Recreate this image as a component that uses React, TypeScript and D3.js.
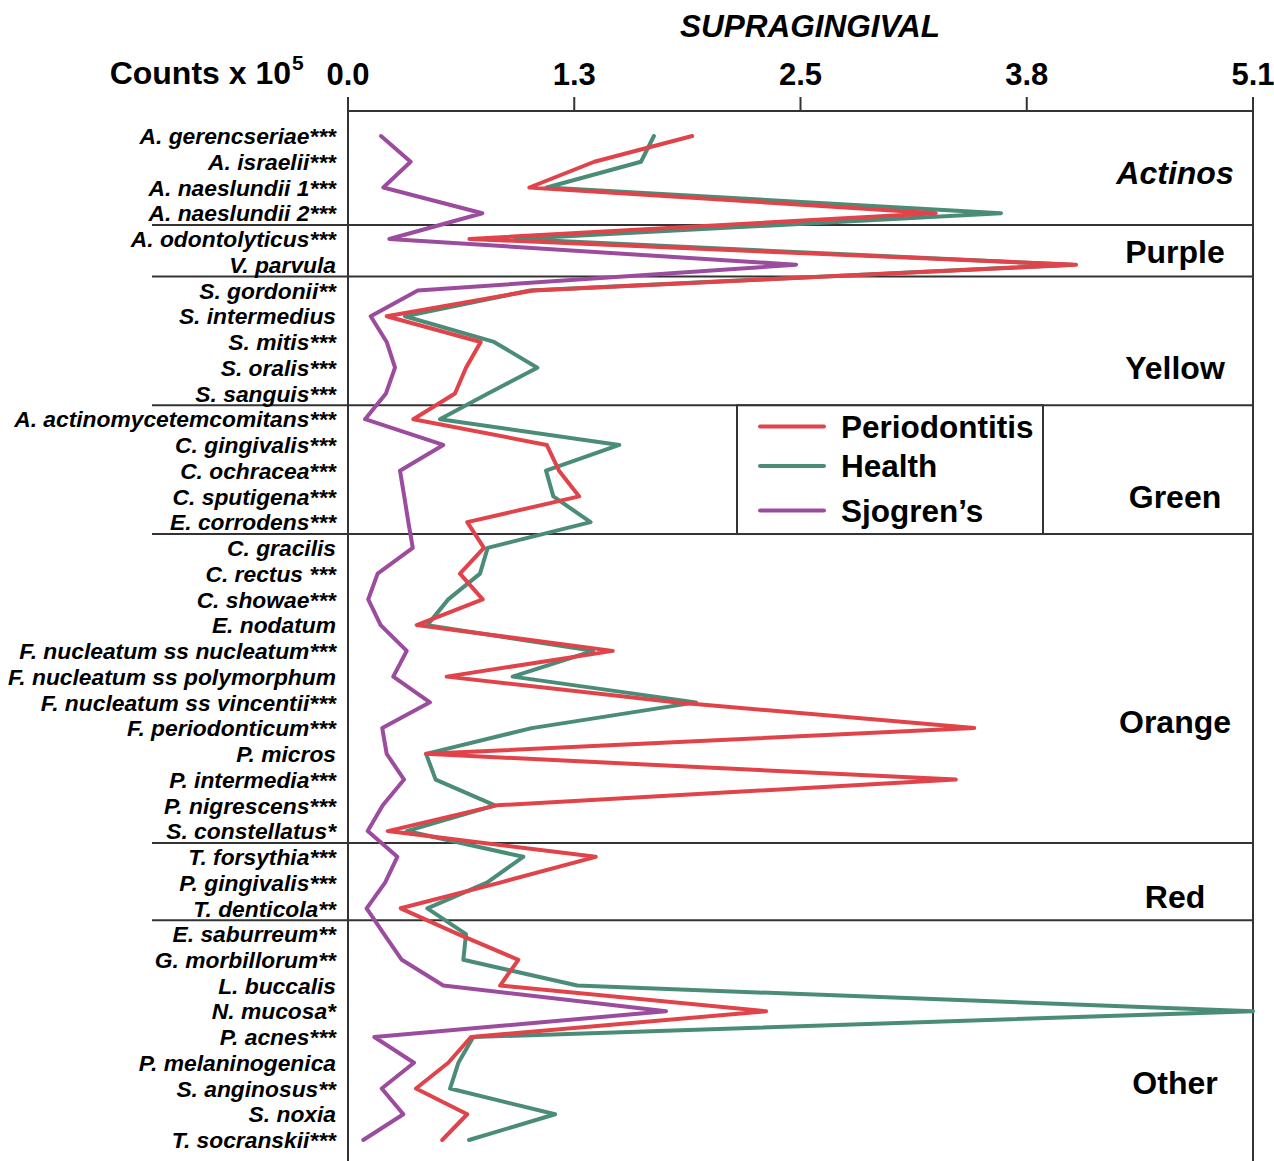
import React from "react";
import * as d3 from "d3";

const species = [
  "A. gerencseriae***", "A. israelii***", "A. naeslundii 1***", "A. naeslundii 2***",
  "A. odontolyticus***", "V. parvula",
  "S. gordonii**", "S. intermedius", "S. mitis***", "S. oralis***", "S. sanguis***",
  "A. actinomycetemcomitans***", "C. gingivalis***", "C. ochracea***", "C. sputigena***", "E. corrodens***",
  "C. gracilis", "C. rectus ***", "C. showae***", "E. nodatum", "F. nucleatum ss nucleatum***",
  "F. nucleatum ss polymorphum", "F. nucleatum ss vincentii***", "F. periodonticum***", "P. micros",
  "P. intermedia***", "P. nigrescens***", "S. constellatus*",
  "T. forsythia***", "P. gingivalis***", "T. denticola**",
  "E. saburreum**", "G. morbillorum**", "L. buccalis", "N. mucosa*", "P. acnes***",
  "P. melaninogenica", "S. anginosus**", "S. noxia", "T. socranskii***",
];

const periodontitis = [
  1.94, 1.388, 1.022, 3.312, 0.684, 4.103,
  1.043, 0.218, 0.748, 0.665, 0.603,
  0.368, 1.12, 1.189, 1.303, 0.672,
  0.766, 0.631, 0.759, 0.387, 1.492, 0.556, 1.843, 3.529, 0.44, 3.425, 0.838, 0.224,
  1.396, 0.857, 0.297,
  0.62, 0.96, 0.857, 2.356, 0.693, 0.565, 0.383, 0.672, 0.531,
];

const health = [
  1.724, 1.651, 1.12, 3.68, 0.941, 4.08,
  1.026, 0.321, 0.823, 1.067, 0.789,
  0.518, 1.529, 1.116, 1.157, 1.367,
  0.787, 0.744, 0.565, 0.447, 1.381, 0.928, 1.961, 1.035, 0.44, 0.494, 0.828, 0.331,
  0.988, 0.783, 0.447,
  0.665, 0.65, 1.292, 5.1, 0.706, 0.622, 0.575, 1.167, 0.682,
];

const sjogrens = [
  0.186, 0.353, 0.199, 0.757, 0.233, 2.525,
  0.393, 0.128, 0.218, 0.265, 0.214,
  0.096, 0.537, 0.293, 0.317, 0.34,
  0.365, 0.167, 0.114, 0.184, 0.331, 0.255, 0.462, 0.193, 0.218, 0.316, 0.196, 0.111,
  0.278, 0.209, 0.105,
  0.203, 0.303, 0.537, 1.792, 0.148, 0.372, 0.19, 0.312, 0.086,
];

const groupNames = ["Actinos", "Purple", "Yellow", "Green", "Orange", "Red", "Other"];
const groupStart = [0, 4, 6, 11, 16, 28, 31];
const groupEnd = [3, 5, 10, 15, 27, 30, 39];
const groupLabelRow = [1.4, 4.5, 9, 14, 22.75, 29.55, 36.75];

const tickValues = [0, 1.275, 2.55, 3.825, 5.1];
const tickLabels = ["0.0", "1.3", "2.5", "3.8", "5.1"];

const seriesNames = ["Periodontitis", "Health", "Sjogren\u2019s"];
const seriesColors = ["#E0434A", "#4B8C78", "#9B4C9E"];

const FONT = "'Liberation Sans', Arial, Helvetica, sans-serif";
const AXIS = "#333333";

export default function App() {
  const W = 1274;
  const H = 1161;
  const x = d3.scaleLinear().domain([0, 5.1]).range([348, 1253]);
  const y = d3.scalePoint<string>().domain(species).range([136, 1140]);
  const step = y.step();
  const rowY = (r: number) => (y(species[0]) as number) + r * step;

  const line = d3
    .line<number>()
    .x((d) => x(d))
    .y((_, i) => y(species[i]) as number);

  const seriesData = [periodontitis, health, sjogrens];
  const drawOrder = [1, 2, 0];

  const plotTop = 111;

  return (
    <svg
      width={W}
      height={H}
      style={{ position: "absolute", left: 0, top: 0, background: "#fff" }}
      fontFamily={FONT}
    >
      {/* title */}
      <text x={810} y={37} textAnchor="middle" fontSize={31.5} fontWeight="bold" fontStyle="italic">
        SUPRAGINGIVAL
      </text>
      <text x={291} y={84} textAnchor="end" fontSize={32} fontWeight="bold">
        Counts x 10
      </text>
      <text x={292} y={70} fontSize={21} fontWeight="bold">
        5
      </text>

      {/* ticks */}
      {tickValues.map((t, i) => (
        <g key={i}>
          <line x1={x(t)} x2={x(t)} y1={97} y2={plotTop} stroke={AXIS} strokeWidth={2} />
          <text x={x(t)} y={85} textAnchor="middle" fontSize={31} fontWeight="bold">
            {tickLabels[i]}
          </text>
        </g>
      ))}

      {/* frame */}
      <line x1={x(0)} x2={x(0)} y1={97} y2={H} stroke={AXIS} strokeWidth={2} />
      <line x1={x(0)} x2={x(5.1)} y1={plotTop} y2={plotTop} stroke={AXIS} strokeWidth={2} />
      <line x1={x(5.1)} x2={x(5.1)} y1={plotTop} y2={H} stroke={AXIS} strokeWidth={2} />

      {/* group separators */}
      {groupEnd.slice(0, -1).map((e, i) => {
        const sy = ((y(species[e]) as number) + (y(species[e + 1]) as number)) / 2 - 1;
        return <line key={i} x1={152} x2={x(5.1)} y1={sy} y2={sy} stroke={AXIS} strokeWidth={2} />;
      })}

      {/* species labels */}
      {species.map((s) => (
        <text
          key={s}
          x={336}
          y={y(s) as number}
          dy="0.36em"
          textAnchor="end"
          fontSize={22.8}
          fontWeight="bold"
          fontStyle="italic"
        >
          {s}
        </text>
      ))}

      {/* group labels */}
      {groupNames.map((g, i) => (
        <text
          key={g}
          x={1175}
          y={rowY(groupLabelRow[i])}
          dy="0.36em"
          textAnchor="middle"
          fontSize={32}
          fontWeight="bold"
          fontStyle={i === 0 ? "italic" : "normal"}
        >
          {g}
        </text>
      ))}

      {/* legend */}
      {(() => {
        const top = ((y(species[10]) as number) + (y(species[11]) as number)) / 2 - 1;
        const bottom = ((y(species[15]) as number) + (y(species[16]) as number)) / 2 - 1;
        const ly = [426.5, 466, 510.5];
        return (
          <g>
            <rect x={737} y={top} width={306} height={bottom - top} fill="#fff" stroke={AXIS} strokeWidth={2} />
            {seriesNames.map((n, i) => (
              <g key={n}>
                <line x1={760} x2={824} y1={ly[i]} y2={ly[i]} stroke={seriesColors[i]} strokeWidth={4} strokeLinecap="round" />
                <text x={841} y={ly[i]} dy="0.36em" fontSize={31.5} fontWeight="bold">
                  {n}
                </text>
              </g>
            ))}
          </g>
        );
      })()}

      {/* series lines */}
      {drawOrder.map((si) => (
        <path
          key={si}
          d={line(seriesData[si]) || ""}
          fill="none"
          stroke={seriesColors[si]}
          strokeWidth={4}
          strokeLinejoin="round"
          strokeLinecap="round"
        />
      ))}
    </svg>
  );
}
